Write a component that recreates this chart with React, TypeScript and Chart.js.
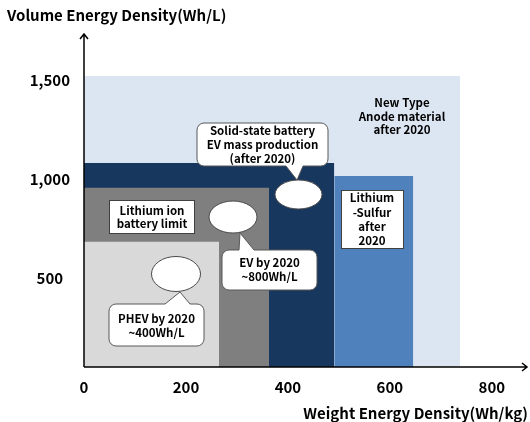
import { useEffect, useRef } from "react";
import { Chart, registerables } from "chart.js";

Chart.register(...registerables);

// ---- data ----
const xTickValues = [0, 200, 400, 600, 800];
const yTickValues = [500, 1000, 1500];
const xAxisTitle = "Weight Energy Density(Wh/kg)";
const yAxisTitle = "Volume Energy Density(Wh/L)";

const regionNames = [
  "PHEV by 2020",
  "Lithium ion battery limit",
  "Solid-state battery",
  "Lithium-Sulfur",
  "New Type Anode material",
];
const regionWeightStart = [0, 0, 0, 491, 0];
const regionWeightEnd = [265, 363, 491, 646, 738];
const regionVolumeTop = [682, 955, 1081, 1015, 1520];
const regionColors = ["#D9D9D9", "#7F7F7F", "#17375E", "#4F81BD", "#DCE6F2"];

const FONT = "'Noto Sans CJK KR', 'Noto Sans', sans-serif";

type Tail = { edge: "top" | "bottom"; x1: number; x2: number; tx: number; ty: number };

function calloutPath(
  ctx: CanvasRenderingContext2D,
  x: number,
  y: number,
  w: number,
  h: number,
  r: number,
  tail: Tail
) {
  ctx.beginPath();
  ctx.moveTo(x + r, y);
  if (tail.edge === "top") {
    ctx.lineTo(tail.x1, y);
    ctx.lineTo(tail.tx, tail.ty);
    ctx.lineTo(tail.x2, y);
  }
  ctx.lineTo(x + w - r, y);
  ctx.arcTo(x + w, y, x + w, y + r, r);
  ctx.lineTo(x + w, y + h - r);
  ctx.arcTo(x + w, y + h, x + w - r, y + h, r);
  if (tail.edge === "bottom") {
    ctx.lineTo(tail.x2, y + h);
    ctx.lineTo(tail.tx, tail.ty);
    ctx.lineTo(tail.x1, y + h);
  }
  ctx.lineTo(x + r, y + h);
  ctx.arcTo(x, y + h, x, y + h - r, r);
  ctx.lineTo(x, y + r);
  ctx.arcTo(x, y, x + r, y, r);
  ctx.closePath();
}

function drawLines(ctx: CanvasRenderingContext2D, lines: string[], cx: number, y0: number, step: number) {
  ctx.save();
  ctx.fillStyle = "#000";
  ctx.font = `bold 11.5px ${FONT}`;
  ctx.textAlign = "center";
  ctx.textBaseline = "middle";
  lines.forEach((t, i) => ctx.fillText(t, cx, y0 + i * step));
  ctx.restore();
}

function ellipse(ctx: CanvasRenderingContext2D, cx: number, cy: number, rx: number, ry: number) {
  ctx.save();
  ctx.beginPath();
  ctx.ellipse(cx, cy, rx, ry, 0, 0, Math.PI * 2);
  ctx.fillStyle = "#fff";
  ctx.fill();
  ctx.strokeStyle = "#4a4a4a";
  ctx.lineWidth = 1;
  ctx.stroke();
  ctx.restore();
}

const annotationPlugin = {
  id: "annotations",
  afterDatasetsDraw(chart: any) {
    const ctx: CanvasRenderingContext2D = chart.ctx;
    const { left, right, top, bottom } = chart.chartArea;

    // ellipses
    ellipse(ctx, 298.5, 194.5, 23.5, 14.5);
    ellipse(ctx, 233, 217, 24, 16);
    ellipse(ctx, 176, 274, 24.5, 17.5);

    // callouts
    const callouts: { x: number; y: number; w: number; h: number; tail: Tail; lines: string[]; cy: number }[] = [
      { x: 197, y: 123, w: 131, h: 43, tail: { edge: "bottom", x1: 286, x2: 303, tx: 297, ty: 180 }, lines: ["Solid-state battery", "EV mass production", "(after 2020)"], cy: 131 },
      { x: 222, y: 250, w: 95, h: 40, tail: { edge: "top", x1: 239, x2: 254, tx: 240, ty: 233 }, lines: ["EV by 2020", "~800Wh/L"], cy: 263 },
      { x: 109, y: 304, w: 95, h: 42, tail: { edge: "top", x1: 165, x2: 190, tx: 180, ty: 292 }, lines: ["PHEV by 2020", "~400Wh/L"], cy: 319 },
    ];
    callouts.forEach((c) => {
      ctx.save();
      calloutPath(ctx, c.x, c.y, c.w, c.h, 7, c.tail);
      ctx.fillStyle = "#fff";
      ctx.fill();
      ctx.strokeStyle = "#595959";
      ctx.lineWidth = 1;
      ctx.stroke();
      ctx.restore();
      drawLines(ctx, c.lines, c.x + c.w / 2, c.cy, 14);
    });

    // plain boxes
    ctx.save();
    ctx.fillStyle = "#fff";
    ctx.strokeStyle = "#404040";
    ctx.lineWidth = 1;
    ctx.fillRect(109, 200, 85, 33);
    ctx.strokeRect(109.5, 200.5, 85, 33);
    ctx.fillRect(341, 190, 62, 58);
    ctx.strokeRect(341.5, 190.5, 62, 58);
    ctx.restore();
    drawLines(ctx, ["Lithium ion", "battery limit"], 152, 211, 12.5);
    drawLines(ctx, ["Lithium", "-Sulfur", "after", "2020"], 372, 198, 14.3);
    drawLines(ctx, ["New Type", "Anode material", "after 2020"], 402, 103, 13.5);

    // axes with arrows
    ctx.save();
    ctx.strokeStyle = "#000";
    ctx.lineWidth = 1.5;
    ctx.beginPath();
    ctx.moveTo(left, bottom);
    ctx.lineTo(left, top + 1);
    ctx.moveTo(left - 4, top + 6);
    ctx.lineTo(left, top + 1);
    ctx.lineTo(left + 4, top + 6);
    ctx.moveTo(left, bottom);
    ctx.lineTo(right - 1, bottom);
    ctx.moveTo(right - 6, bottom - 4);
    ctx.lineTo(right - 1, bottom);
    ctx.lineTo(right - 6, bottom + 4);
    ctx.stroke();
    ctx.restore();
  },
};

export default function App() {
  const canvasRef = useRef<HTMLCanvasElement | null>(null);

  useEffect(() => {
    if (!canvasRef.current) return;
    const datasets = regionNames.map((name, i) => ({
      label: name,
      data: [
        { x: regionWeightStart[i], y: regionVolumeTop[i] },
        { x: regionWeightEnd[i], y: regionVolumeTop[i] },
      ],
      fill: "start",
      backgroundColor: regionColors[i],
      borderColor: "rgba(0,0,0,0)",
      borderWidth: 0,
      pointRadius: 0,
      order: i + 1,
    }));

    const chart = new Chart(canvasRef.current, {
      type: "line",
      data: { datasets },
      plugins: [annotationPlugin],
      options: {
        animation: false,
        responsive: false,
        devicePixelRatio: 1,
        events: [],
        layout: { padding: { left: 7, right: 2, top: 0, bottom: 0 } },
        plugins: {
          legend: { display: false },
          tooltip: { enabled: false },
          title: {
            display: true,
            text: yAxisTitle,
            align: "start",
            color: "#000",
            font: { family: FONT, size: 15, weight: "bold" },
            padding: { top: 6.5, bottom: 8.5 },
          },
        },
        scales: {
          x: {
            type: "linear",
            min: 0,
            max: 871,
            grid: { display: false, drawTicks: false },
            border: { display: false },
            afterBuildTicks: (scale: any) => {
              scale.ticks = xTickValues.map((v) => ({ value: v }));
            },
            afterFit: (scale: any) => {
              scale.height = 55;
            },
            ticks: {
              color: "#000",
              padding: 11,
              maxRotation: 0,
              minRotation: 0,
              autoSkip: false,
              font: { family: FONT, size: 15, weight: "bold" },
              callback: (v: any) => Number(v).toLocaleString("en-US"),
            },
            title: {
              display: true,
              text: xAxisTitle,
              align: "end",
              color: "#000",
              font: { family: FONT, size: 15, weight: "bold" },
              padding: { top: 4, bottom: 0 },
            },
          },
          y: {
            type: "linear",
            min: 50,
            max: 1737,
            grid: { display: false, drawTicks: false },
            border: { display: false },
            afterBuildTicks: (scale: any) => {
              scale.ticks = yTickValues.map((v) => ({ value: v }));
            },
            afterFit: (scale: any) => {
              scale.width = 77;
            },
            ticks: {
              color: "#000",
              padding: 14,
              crossAlign: "center",
              autoSkip: false,
              font: { family: FONT, size: 15, weight: "bold" },
              callback: (v: any) => Number(v).toLocaleString("en-US"),
            },
          },
        },
      } as any,
    });
    return () => chart.destroy();
  }, []);

  return (
    <div style={{ position: "absolute", left: 0, top: 0, width: 530, height: 422, background: "#fff" }}>
      <canvas ref={canvasRef} width={530} height={422} />
    </div>
  );
}
